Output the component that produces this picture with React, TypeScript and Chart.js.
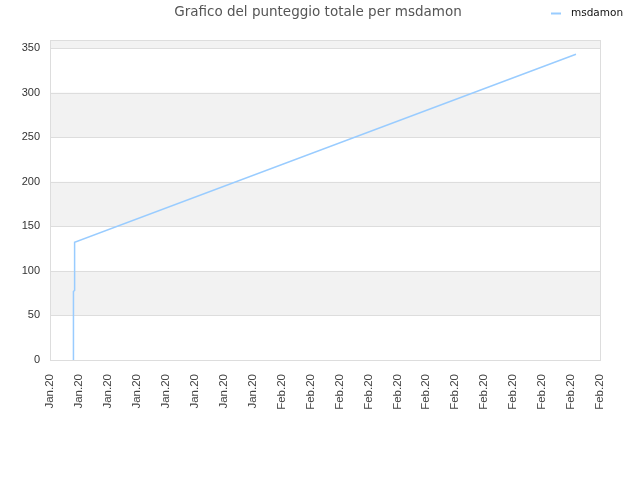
import React, { useEffect, useRef } from "react";
import { Chart, registerables } from "chart.js";

Chart.register(...registerables);

const titleText = "Grafico del punteggio totale per msdamon";
const seriesLabel = "msdamon";
const tickLabels = [
  "Jan.20", "Jan.20", "Jan.20", "Jan.20", "Jan.20", "Jan.20", "Jan.20", "Jan.20",
  "Feb.20", "Feb.20", "Feb.20", "Feb.20", "Feb.20", "Feb.20", "Feb.20", "Feb.20",
  "Feb.20", "Feb.20", "Feb.20", "Feb.20",
];
const yTicks = [0, 50, 100, 150, 200, 250, 300, 350];
const xValues = [0.81, 0.81, 0.81, 0.85, 0.85, 18.17];
const yValues = [0, 22, 77, 78, 132, 343];
const yMax = 359;

const FONT = "'DejaVu Sans', sans-serif";
const TICK_FONT = "'Liberation Sans', Arial, sans-serif";

const decorPlugin = {
  id: "decor",
  beforeDatasetsDraw(chart: any) {
    const { ctx, chartArea } = chart;
    const ys = chart.scales.y;
    const { left, right, top, bottom } = chartArea;
    ctx.save();
    for (let i = 0; i < yTicks.length; i++) {
      const v = yTicks[i];
      const y1 = ys.getPixelForValue(v);
      const y2 = i + 1 < yTicks.length ? ys.getPixelForValue(yTicks[i + 1]) : top;
      if (i % 2 === 1) {
        ctx.fillStyle = "#f2f2f2";
        ctx.fillRect(left, y2, right - left, y1 - y2);
      } else if (i === yTicks.length - 1) {
        ctx.fillStyle = "#eeeeee";
        ctx.fillRect(left, y2, right - left, y1 - y2);
      }
    }
    ctx.strokeStyle = "#dddddd";
    ctx.lineWidth = 1;
    for (let i = 1; i < yTicks.length; i++) {
      const y = Math.round(ys.getPixelForValue(yTicks[i])) + 0.5;
      ctx.beginPath();
      ctx.moveTo(left, y);
      ctx.lineTo(right, y);
      ctx.stroke();
    }
    ctx.strokeRect(Math.round(left) + 0.5, Math.round(top) + 0.5, Math.round(right - left), Math.round(bottom - top));
    ctx.restore();
  },
  afterDraw(chart: any) {
    const { ctx } = chart;
    ctx.save();
    ctx.font = `13.5px ${FONT}`;
    ctx.fillStyle = "#555555";
    ctx.textAlign = "center";
    ctx.textBaseline = "middle";
    ctx.fillText(titleText, 318, 12);
    const ds = chart.data.datasets[0];
    ctx.strokeStyle = ds.borderColor;
    ctx.lineWidth = 2;
    ctx.beginPath();
    ctx.moveTo(551, 13.5);
    ctx.lineTo(561, 13.5);
    ctx.stroke();
    ctx.font = `10.5px ${FONT}`;
    ctx.fillStyle = "#111111";
    ctx.textAlign = "left";
    ctx.fillText(ds.label, 571, 13);
    ctx.restore();
  },
};

export default function App() {
  const ref = useRef<HTMLCanvasElement>(null);
  useEffect(() => {
    if (!ref.current) return;
    const chart = new Chart(ref.current, {
      type: "line",
      data: {
        datasets: [
          {
            label: seriesLabel,
            data: xValues.map((x, i) => ({ x, y: yValues[i] })),
            borderColor: "#99ccff",
            backgroundColor: "#99ccff",
            borderWidth: 1.5,
            pointRadius: 0,
            tension: 0,
            fill: false,
          },
        ],
      },
      options: {
        animation: false,
        responsive: false,
        devicePixelRatio: 1,
        layout: { padding: { top: 40, right: 40, left: 0, bottom: 0 } },
        plugins: {
          legend: { display: false },
          title: { display: false },
          tooltip: { enabled: false },
        },
        scales: {
          x: {
            type: "linear",
            min: 0,
            max: tickLabels.length - 1,
            grid: { display: false, drawTicks: false },
            border: { display: false },
            afterFit: (s: any) => { s.height = 120; },
            afterBuildTicks: (s: any) => {
              s.ticks = tickLabels.map((_, i) => ({ value: i }));
            },
            ticks: {
              autoSkip: false,
              minRotation: 90,
              maxRotation: 90,
              padding: 14,
              color: "#444444",
              font: { family: TICK_FONT, size: 11.5 },
              callback: (v: any) => tickLabels[Math.round(Number(v))] ?? "",
            },
          },
          y: {
            min: 0,
            max: yMax,
            grid: { display: false, drawTicks: false },
            border: { display: false },
            afterFit: (s: any) => { s.width = 50; },
            afterBuildTicks: (s: any) => {
              s.ticks = yTicks.map((v) => ({ value: v }));
            },
            ticks: {
              autoSkip: false,
              padding: 10,
              color: "#333333",
              font: { family: TICK_FONT, size: 11 },
            },
          },
        },
      },
      plugins: [decorPlugin],
    } as any);
    return () => chart.destroy();
  }, []);
  return (
    <div style={{ position: "absolute", left: 0, top: 0, width: 640, height: 480, background: "#fff" }}>
      <canvas ref={ref} width={640} height={480} />
    </div>
  );
}
